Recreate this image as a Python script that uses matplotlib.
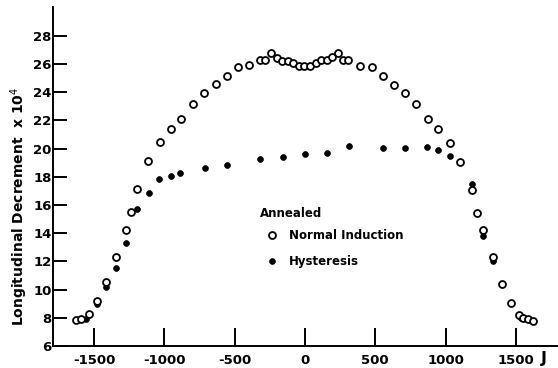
import matplotlib
matplotlib.use("Agg")
import matplotlib.pyplot as plt

plt.rcParams['axes.unicode_minus'] = False
plt.rcParams['font.family'] = ['DejaVu Sans']

# Normal induction (open circles)
normal_x = [-1631, -1595, -1539, -1479, -1415, -1347, -1271, -1240, -1197, -1114,
            -1034, -955, -880, -799, -716, -635, -557, -479, -398, -322, -285,
            -242, -201, -161, -119, -83, -43, -5, 36, 76, 114, 154, 194, 232,
            272, 308, 395, 474, 553, 631, 711, 789, 873, 946, 1029, 1106, 1186,
            1227, 1267, 1335, 1404, 1468, 1526, 1548, 1588, 1624]
normal_y = [7.84, 7.94, 8.29, 9.17, 10.52, 12.31, 14.26, 15.48, 17.11, 19.12,
            20.45, 21.41, 22.10, 23.16, 23.96, 24.56, 25.15, 25.81, 25.91, 26.28, 26.28,
            26.76, 26.40, 26.23, 26.23, 26.09, 25.88, 25.88, 25.88, 26.09, 26.28, 26.28, 26.47, 26.80,
            26.28, 26.28, 25.88, 25.81, 25.15, 24.49, 23.92, 23.14, 22.08, 21.39, 20.42, 19.03, 17.03,
            15.43, 14.24, 12.29, 10.43, 9.07, 8.20, 7.96, 7.90, 7.77]

# Hysteresis (filled circles)
hyst_x = [-1558, -1479, -1415, -1346, -1271, -1195, -1112, -1036, -955, -887,
          -713, -557, -320, -159, -2, 154, 313, 553, 711, 868, 948, 1029,
          1186, 1266, 1335, 1540]
hyst_y = [7.94, 9.00, 10.16, 11.53, 13.33, 15.69, 16.87, 17.87, 18.06, 18.27,
          18.62, 18.84, 19.26, 19.42, 19.62, 19.71, 20.18, 20.06, 20.06, 20.11, 19.88, 19.48,
          17.49, 13.80, 12.05, 8.00]

x_ticks = [-1500, -1000, -500, 0, 500, 1000, 1500]
y_ticks = [6, 8, 10, 12, 14, 16, 18, 20, 22, 24, 26, 28]

fig = plt.figure(figsize=(5.58, 3.68), dpi=100)
ax = fig.add_axes([53/558, 22/368, 505/558, 339/368])

ax.plot(hyst_x, hyst_y, linestyle='none', marker='o', markersize=4.2,
        markerfacecolor='black', markeredgecolor='black', markeredgewidth=0.5,
        label='Hysteresis', zorder=3)
ax.plot(normal_x, normal_y, linestyle='none', marker='o', markersize=5.0,
        markerfacecolor='white', markeredgecolor='black', markeredgewidth=1.3,
        label='Normal Induction', zorder=4)

ax.set_xlim(-1792, 1800)
ax.set_ylim(6, 30.04)
ax.set_xticks(x_ticks)
ax.set_yticks(y_ticks)

for s in ['top', 'right']:
    ax.spines[s].set_visible(False)
for s in ['left', 'bottom']:
    ax.spines[s].set_linewidth(1.4)

ax.tick_params(axis='x', direction='in', length=13, width=1.4, pad=6,
               labelsize=9.5)
ax.tick_params(axis='y', direction='in', length=10, width=1.4, pad=1,
               labelsize=9.5)
for lab in ax.get_xticklabels() + ax.get_yticklabels():
    lab.set_fontweight('bold')

ax.set_ylabel('Longitudinal Decrement  x 10$^4$', fontsize=10, fontweight='bold')
ax.yaxis.set_label_coords(-0.046, 0.413)

# axis unit label at the right end of the x axis
ax.text(0.978, -0.038, 'J', fontsize=11.5, fontweight='bold', ha='right', va='center',
        transform=ax.transAxes, clip_on=False)

ax.text(0.41, 0.392, 'Annealed', transform=ax.transAxes, va='center', ha='left',
        fontsize=8.5, fontweight='bold')

handles, labels = ax.get_legend_handles_labels()
leg = ax.legend(handles[::-1], labels[::-1], loc='upper left',
                bbox_to_anchor=(0.4267, 0.345), frameon=False, handlelength=0.6,
                handletextpad=1.1, labelspacing=1.1, borderpad=0, borderaxespad=0,
                prop={'size': 8.5, 'weight': 'bold'})

fig.savefig('out.png', dpi=100)
